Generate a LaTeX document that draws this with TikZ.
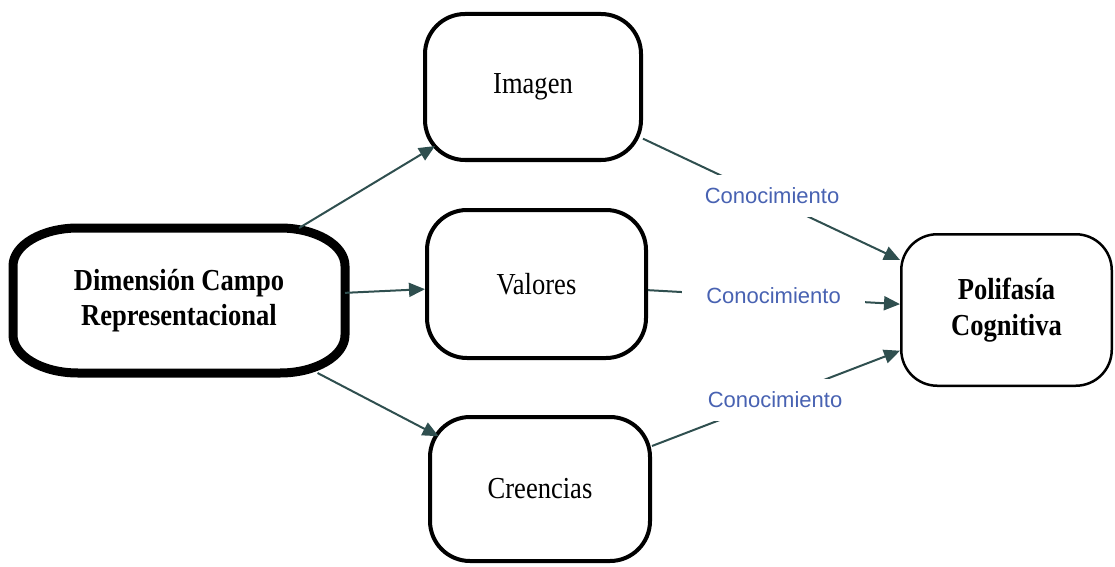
\documentclass[tikz,border=0pt]{standalone}
\usepackage{fontspec}
\usetikzlibrary{arrows.meta}
\newfontfamily\boxserif[FakeStretch=0.87]{Liberation Serif}
\newfontfamily\labelsans{Liberation Sans}
\definecolor{edgegray}{HTML}{2F4F4F}
\definecolor{labelblue}{RGB}{72,98,178}
\begin{document}
\begin{tikzpicture}[x=1pt,y=1pt,
  boxtext/.style={font=\boxserif\fontsize{30.5}{35.5}\selectfont, align=center, text=black},
  midbox/.style={boxtext, draw=black, line width=4pt, rounded corners=40pt, fill=white, inner sep=0pt},
  endbox/.style={boxtext, draw=black, line width=2.5pt, rounded corners=36pt, fill=white, inner sep=0pt},
  link/.style={draw=edgegray, line width=2pt, -{Triangle[length=16pt,width=14pt]}},
  linklabel/.style={font=\labelsans\fontsize{22}{24}\selectfont, text=labelblue, fill=white,
    minimum width=183pt, minimum height=42pt, inner sep=0pt}
]
\useasboundingbox (0,0) rectangle (1115,566);

% source node: thick border with elliptical corners
\node[boxtext, minimum width=323pt, minimum height=136pt, inner sep=0pt, outer sep=4.5pt]
  (L) at (179,265.5) {\bfseries Dimensión Campo\\\bfseries Representacional};
\draw[line width=9pt, line join=round]
  ([xshift=65pt]L.north west) -- ([xshift=-65pt]L.north east)
  arc[start angle=90, end angle=0, x radius=65pt, y radius=38pt]
  -- ([yshift=38pt]L.south east)
  arc[start angle=0, end angle=-90, x radius=65pt, y radius=38pt]
  -- ([xshift=65pt]L.south west)
  arc[start angle=270, end angle=180, x radius=65pt, y radius=38pt]
  -- ([yshift=-38pt]L.north west)
  arc[start angle=180, end angle=90, x radius=65pt, y radius=38pt]
  -- cycle;

% middle nodes
\node[midbox, minimum width=216pt, minimum height=146pt] (I) at (533,479) {Imagen};
\node[midbox, minimum width=219pt, minimum height=148pt] (V) at (536.5,282) {Valores};
\node[midbox, minimum width=220pt, minimum height=144pt] (C) at (540,77) {Creencias};

% target node
\node[endbox, minimum width=210.5pt, minimum height=151.5pt] (P) at (1006.5,256)
  {\bfseries Polifasía\\\bfseries Cognitiva};

% connectors
\draw[link, shorten >=-14pt] (L) -- (I);
\draw[link] (L) -- (V);
\draw[link, shorten >=-12pt] (L) -- (C);
\draw[link] (I) -- (P);
\draw[link] (V) -- (P);
\draw[link] (C) -- (P);

% connector labels
\node[linklabel] (k1) at (772,370) {Conocimiento};
\node[linklabel] (k2) at (773.5,270) {Conocimiento};
\node[linklabel] (k3) at (775,166) {Conocimiento};
\end{tikzpicture}
\end{document}
